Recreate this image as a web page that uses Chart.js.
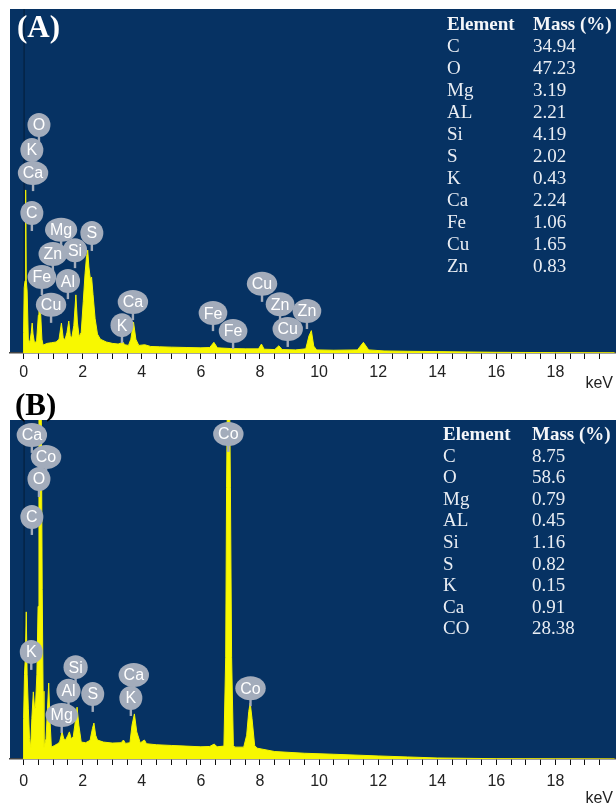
<!DOCTYPE html>
<html>
<head>
<meta charset="utf-8">
<script src="https://cdn.jsdelivr.net/npm/chart.js@4.4.1/dist/chart.umd.min.js"></script>
<style>
  html, body { margin: 0; padding: 0; background: #fff; }
  body { width: 616px; height: 809px; position: relative; overflow: hidden; font-family: "Liberation Sans", Arial, sans-serif; }
  canvas { position: absolute; left: 0; }
  #chartA { top: 0; }
  #chartB { top: 388px; }
  .tag { position: absolute; font-family: "Liberation Serif", "Times New Roman", serif; font-weight: bold; font-size: 31px; line-height: 30px; }
  .col { position: absolute; font-family: "Liberation Serif", "Times New Roman", serif; font-size: 19px; color: #e9edf3; white-space: nowrap; }
  .col div:first-child { font-weight: bold; color: #f4f6f9; }
  .unit { position: absolute; right: 3px; font-size: 16px; line-height: 16px; color: #222; }
</style>
</head>
<body>
<canvas id="chartA" width="616" height="388"></canvas>
<canvas id="chartB" width="616" height="421"></canvas>
<div class="tag" style="left:17px; top:12px; color:#fff;">(A)</div>
<div class="tag" style="left:15px; top:390px; color:#000;">(B)</div>
<div class="unit" style="top:375px;">keV</div>
<div class="unit" style="top:790px;">keV</div>
<div class="col" id="elemA" style="left:447px; top:13px; line-height:22px;"></div>
<div class="col" id="massA" style="left:533px; top:13px; line-height:22px;"></div>
<div class="col" id="elemB" style="left:443px; top:423px; line-height:21.6px;"></div>
<div class="col" id="massB" style="left:532px; top:423px; line-height:21.6px;"></div>
<script>
const xTickLabels = [0, 2, 4, 6, 8, 10, 12, 14, 16, 18];

/* -----------------------------
   Panel A: spectrum + peak tags
------------------------------ */
const energyA = [-0.02, 0.00, 0.02, 0.05, 0.07, 0.09, 0.12, 0.16, 0.21, 0.26, 0.29, 0.32, 0.37, 0.44, 0.50, 0.52, 0.55, 0.58, 0.62, 0.66,
  0.80, 0.95, 1.10, 1.20, 1.28, 1.34, 1.40, 1.47, 1.53, 1.58, 1.63, 1.70, 1.77, 1.82, 1.88, 1.95, 2.02, 2.08, 2.13, 2.17,
  2.21, 2.26, 2.30, 2.35, 2.42, 2.50, 2.60, 2.80, 3.00, 3.20, 3.30, 3.36, 3.42, 3.55, 3.63, 3.72, 3.80, 3.90, 4.10, 4.30,
  4.60, 5.00, 5.50, 6.00, 6.30, 6.44, 6.56, 7.00, 7.50, 7.95, 8.05, 8.14, 8.50, 8.64, 8.75, 9.20, 9.55, 9.66, 9.74, 9.82,
  9.92, 10.50, 11.30, 11.50, 11.68, 12.20, 13.00, 14.00, 15.00, 16.00, 17.00, 18.00, 20.00];
const countsA = [0, 60, 190, 210, 474, 210, 180, 40, 30, 60, 87, 55, 29, 35, 110, 130, 163, 110, 40, 23,
  28, 30, 32, 40, 87, 45, 38, 60, 93, 50, 44, 80, 169, 90, 47, 60, 150, 230, 280, 299,
  250, 215, 221, 170, 100, 55, 40, 32, 28, 26, 29, 32, 24, 22, 40, 90, 40, 22, 24, 19,
  18, 17, 16, 15, 16, 31, 15, 13, 12, 12, 26, 11, 10, 21, 10, 9, 12, 50, 65, 20,
  9, 8, 9, 31, 9, 6, 5, 4, 3, 2, 1.5, 1, 0.5];
const tagTextA = ['O', 'K', 'Ca', 'C', 'Mg', 'S', 'Zn', 'Si', 'Fe', 'Al', 'Cu', 'Ca', 'K', 'Fe', 'Fe', 'Cu', 'Zn', 'Zn', 'Cu'];
const tagKeVA = [0.52, 0.28, 0.32, 0.28, 1.27, 2.31, 0.99, 1.74, 0.62, 1.50, 0.93, 3.70, 3.33, 6.41, 7.09, 8.07, 8.68, 9.59, 8.94];
const tagCountsA = [663, 590, 523, 407, 358, 349, 288, 299, 221, 209, 140, 148, 81, 116, 64, 201, 142, 122, 70];
const elementsA = ['C', 'O', 'Mg', 'AL', 'Si', 'S', 'K', 'Ca', 'Fe', 'Cu', 'Zn'];
const massA = ['34.94', '47.23', '3.19', '2.21', '4.19', '2.02', '0.43', '2.24', '1.06', '1.65', '0.83'];

/* -----------------------------
   Panel B: spectrum + peak tags
------------------------------ */
const energyB = [-0.02, 0.00, 0.03, 0.06, 0.09, 0.12, 0.16, 0.20, 0.24, 0.28, 0.33, 0.37, 0.40, 0.45, 0.49, 0.52, 0.56, 0.60, 0.63, 0.66,
  0.69, 0.76, 0.81, 0.85, 0.89, 0.94, 1.05, 1.15, 1.22, 1.30, 1.36, 1.42, 1.50, 1.55, 1.61, 1.68, 1.75, 1.81, 1.87, 1.95,
  2.10, 2.25, 2.33, 2.38, 2.44, 2.50, 2.70, 3.00, 3.30, 3.38, 3.45, 3.60, 3.67, 3.75, 3.83, 3.95, 4.02, 4.09, 4.16, 4.50,
  5.00, 5.50, 6.00, 6.30, 6.45, 6.55, 6.78, 6.84, 6.87, 6.90, 6.93, 6.97, 7.00, 7.04, 7.10, 7.15, 7.45, 7.55, 7.62, 7.67,
  7.73, 7.82, 7.90, 8.50, 9.50, 10.50, 12.00, 13.00, 14.00, 15.00, 16.00, 18.00, 20.00];
const countsB = [0, 120, 250, 300, 434, 250, 150, 60, 35, 120, 198, 150, 153, 250, 450, 1000, 1300, 1000, 500, 200,
  35, 60, 150, 224, 120, 35, 40, 45, 50, 80, 60, 56, 70, 80, 60, 65, 110, 153, 100, 50,
  48, 55, 90, 106, 70, 56, 50, 47, 48, 56, 46, 48, 100, 133, 80, 47, 52, 56, 45, 42,
  40, 38, 36, 37, 44, 36, 38, 300, 800, 1100, 1150, 1100, 800, 300, 40, 35, 35, 70, 140, 165,
  120, 40, 32, 22, 17, 14, 9, 6, 3, 2, 1, 0.5, 0.3];
const tagTextB = ['Ca', 'Co', 'O', 'C', 'Co', 'K', 'Si', 'Al', 'Mg', 'S', 'Ca', 'K', 'Co'];
const tagKeVB = [0.28, 0.76, 0.52, 0.28, 6.93, 0.26, 1.76, 1.52, 1.29, 2.34, 3.73, 3.63, 7.68];
const tagCountsB = [956, 891, 826, 714, 959, 316, 271, 201, 130, 192, 248, 180, 209];
const elementsB = ['C', 'O', 'Mg', 'AL', 'Si', 'S', 'K', 'Ca', 'CO'];
const massB = ['8.75', '58.6', '0.79', '0.45', '1.16', '0.82', '0.15', '0.91', '28.38'];

/* -----------------------------
   Plot background + tag bubbles
------------------------------ */
const panelBg = {
  id: 'panelBg',
  beforeDraw(chart) {
    const { ctx, chartArea: a, scales } = chart;
    ctx.save();
    ctx.fillStyle = '#063263';
    ctx.fillRect(a.left, a.top, a.right - a.left, a.bottom - a.top);
    // faint zero line
    const x0 = scales.x.getPixelForValue(0);
    ctx.strokeStyle = 'rgba(0,0,0,0.45)';
    ctx.lineWidth = 1;
    ctx.beginPath();
    ctx.moveTo(x0 + 0.5, a.top);
    ctx.lineTo(x0 + 0.5, a.bottom);
    ctx.stroke();
    ctx.restore();
  }
};

const peakTags = {
  id: 'peakTags',
  afterDatasetsDraw(chart, args, opts) {
    const { ctx, scales } = chart;
    const order = opts.text.map((t, i) => i).sort((a, b) => opts.counts[b] - opts.counts[a]);
    ctx.save();
    ctx.font = '16px "Liberation Sans", Arial, sans-serif';
    ctx.textAlign = 'center';
    ctx.textBaseline = 'middle';
    order.forEach(i => {
      const cx = scales.x.getPixelForValue(opts.kev[i]);
      const cy = scales.y.getPixelForValue(opts.counts[i]);
      const tw = ctx.measureText(opts.text[i]).width;
      const rx = Math.max(11.5, tw / 2 + 5);
      const ry = 12;
      ctx.fillStyle = '#a3acbb';
      ctx.fillRect(cx - 1.2, cy + ry - 2, 2.4, 8);
      ctx.beginPath();
      ctx.ellipse(cx, cy, rx, ry, 0, 0, Math.PI * 2);
      ctx.fill();
      ctx.fillStyle = '#ffffff';
      ctx.fillText(opts.text[i], cx, cy + 1);
    });
    ctx.restore();
  }
};

function makeSpectrum(id, energy, counts, tags, axisHeight, padTop, tickPad) {
  const ctx = document.getElementById(id).getContext('2d');
  return new Chart(ctx, {
    type: 'line',
    data: {
      datasets: [{
        data: energy.map((e, i) => ({ x: e, y: counts[i] })),
        borderColor: '#f4f400',
        backgroundColor: '#f8f800',
        borderWidth: 1,
        pointRadius: 0,
        tension: 0,
        fill: 'origin'
      }]
    },
    options: {
      responsive: false,
      animation: false,
      layout: { padding: { left: 10, top: padTop, right: 0, bottom: 0 } },
      plugins: {
        legend: { display: false },
        tooltip: { enabled: false },
        peakTags: tags
      },
      scales: {
        x: {
          type: 'linear',
          min: -0.46,
          max: 20.05,
          afterFit: s => { s.height = axisHeight; },
          afterBuildTicks: s => {
            const t = [];
            for (let v = 0; v <= 19.5; v += 0.5) t.push({ value: v });
            s.ticks = t;
          },
          border: { color: '#444', width: 1.5 },
          grid: { drawOnChartArea: false, drawTicks: true, tickLength: 6, color: '#111', lineWidth: 1 },
          ticks: {
            autoSkip: false,
            maxRotation: 0,
            padding: tickPad,
            color: '#222',
            font: { family: '"Liberation Sans", Arial, sans-serif', size: 16 },
            callback: v => xTickLabels.includes(v) ? String(v) : ''
          }
        },
        y: { display: false, min: 0, max: 1000 }
      }
    },
    plugins: [panelBg, peakTags]
  });
}

makeSpectrum('chartA', energyA, countsA, { text: tagTextA, kev: tagKeVA, counts: tagCountsA }, 35, 9, 4);
makeSpectrum('chartB', energyB, countsB, { text: tagTextB, kev: tagKeVB, counts: tagCountsB }, 50, 32, 7);

/* -----------------------------
   Composition tables
------------------------------ */
function fillCol(id, head, rows) {
  document.getElementById(id).innerHTML = [head].concat(rows).map(r => `<div>${r}</div>`).join('');
}
fillCol('elemA', 'Element', elementsA);
fillCol('massA', 'Mass (%)', massA);
fillCol('elemB', 'Element', elementsB);
fillCol('massB', 'Mass (%)', massB);
</script>
</body>
</html>
